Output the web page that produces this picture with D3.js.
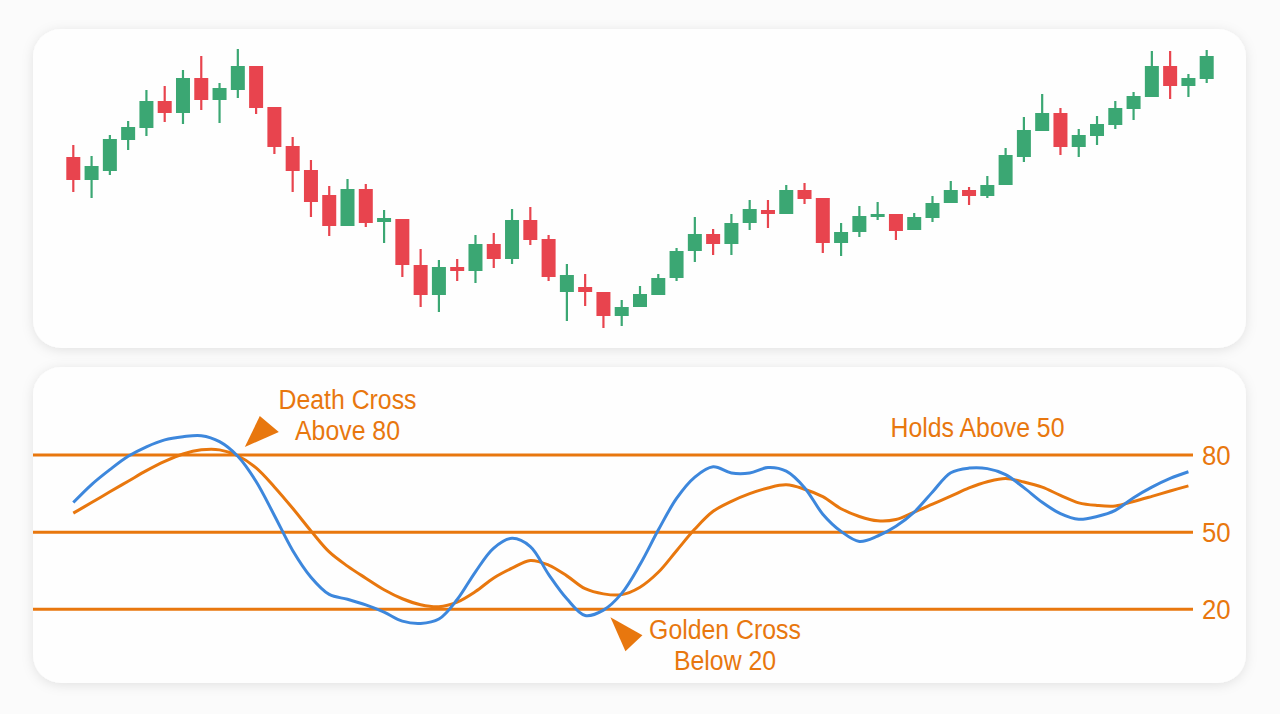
<!DOCTYPE html>
<html>
<head>
<meta charset="utf-8">
<script src="https://cdn.jsdelivr.net/npm/d3@7"></script>
<style>
  html, body { margin: 0; padding: 0; background: #fbfbfb; }
  svg { display: block; }
  .lbl { font-family: "Liberation Sans", Arial, "Helvetica", sans-serif; fill: #e8770e; }
</style>
</head>
<body>
<svg id="chart" width="1280" height="714"></svg>
<script>
// ---------- DATA ----------
const candleOpen  = [243,220,229,260,272,299,287,322,300,310,334,293,254,230,205,174,211,178,181,135,105,133,129,156,141,180,161,108,113,108,84,93,105,122,149,166,156,177,190,186,210,202,157,168,183,186,170,182,197,210,204,215,243,269,287,253,264,275,291,303,334,314,321];
const candleHigh  = [255,244,265,279,310,314,330,344,317,351,334,293,263,240,214,221,216,190,181,151,140,141,165,167,191,193,165,136,126,108,100,114,126,152,183,171,186,200,200,215,217,202,177,194,198,186,187,204,219,213,224,252,283,306,292,271,284,299,308,349,349,326,350];
const candleLow   = [208,202,225,250,264,278,276,290,277,302,286,246,208,183,164,174,173,157,123,93,88,119,117,132,136,155,119,79,94,72,74,93,105,119,138,145,145,170,172,186,196,147,144,163,180,160,170,178,197,195,202,215,238,269,245,243,255,271,280,303,301,303,317];
const candleClose = [220,234,261,273,299,287,322,300,312,334,292,253,229,198,174,211,177,182,135,105,133,129,156,141,180,160,123,125,108,84,93,106,122,149,166,156,177,191,186,210,201,157,168,184,186,169,183,197,210,204,215,245,270,287,253,265,276,292,304,334,314,322,344];

const stochK = [61.5,68.5,74.3,79.5,83.2,85.9,87.1,87.5,85.2,79.5,69.7,56.5,42.9,32.5,25.8,23.9,21.7,18.9,15.4,14.5,16.2,23.8,34.6,43.8,47.6,44.4,33.6,24.1,17.6,19.7,26.2,37.4,50.8,63.1,71.4,75.4,73.0,73.0,75.1,73.7,67.3,57.0,50.3,46.4,48.5,52.3,57.8,65.6,73.1,74.9,74.7,72.4,67.3,61.6,57.2,55.0,56.1,58.5,63.4,67.5,70.9,73.5];
const stochD = [57.4,61.5,65.7,69.8,73.9,77.5,80.4,82.0,82.0,79.7,75.0,67.6,59.3,50.5,42.3,36.8,32.1,27.6,24.1,21.8,21.0,22.8,26.9,32.2,36.0,39.0,37.2,33.0,28.0,26.0,25.7,28.6,34.4,42.8,51.2,58.1,62.0,65.0,67.2,68.4,66.7,63.8,59.1,56.1,54.4,54.9,57.8,60.9,64.0,67.2,69.6,70.9,69.5,67.5,64.3,61.4,60.4,60.2,61.9,63.9,66.0,68.0];

const levels = [80, 50, 20];
const levelLabels = ["80", "50", "20"];
const noteDeath  = ["Death Cross", "Above 80"];
const noteGolden = ["Golden Cross", "Below 20"];
const noteHolds  = ["Holds Above 50"];

// ---------- STYLE ----------
const GREEN = "#3ba773", RED = "#e8444e", ORANGE = "#e8770e", BLUE = "#3d87dc";
const NARROW = 0.92;

const svg = d3.select("#chart");
const defs = svg.append("defs");
const f = defs.append("filter").attr("id", "shadow").attr("x", "-5%").attr("y", "-10%").attr("width", "110%").attr("height", "125%");
f.append("feDropShadow").attr("dx", 0).attr("dy", 2).attr("stdDeviation", 6)
  .attr("flood-color", "#000").attr("flood-opacity", 0.10);

// panels
const panels = [{x:33, y:29, w:1213, h:319}, {x:33, y:367, w:1213, h:316}];
svg.selectAll("rect.panel").data(panels).enter().append("rect")
  .attr("class", "panel")
  .attr("x", d => d.x).attr("y", d => d.y).attr("width", d => d.w).attr("height", d => d.h)
  .attr("rx", 28).attr("fill", "#fefefe").attr("filter", "url(#shadow)");

// ---------- CANDLES ----------
const idx = d3.range(candleOpen.length);
const x = d3.scalePoint().domain(idx).range([73.3, 1206.7]);
const y = d3.scaleLinear().domain([60, 360]).range([340, 40]);
const bodyW = 14;

const candles = idx.map(i => ({i, o: candleOpen[i], h: candleHigh[i], l: candleLow[i], c: candleClose[i]}));
const cg = svg.append("g");
const cs = cg.selectAll("g.c").data(candles).enter().append("g").attr("class", "c");
cs.append("line")
  .attr("x1", d => x(d.i)).attr("x2", d => x(d.i))
  .attr("y1", d => y(d.h)).attr("y2", d => y(d.l))
  .attr("stroke", d => d.c >= d.o ? GREEN : RED).attr("stroke-width", 2.2);
cs.append("rect")
  .attr("x", d => x(d.i) - bodyW / 2).attr("width", bodyW)
  .attr("y", d => y(Math.max(d.o, d.c)))
  .attr("height", d => Math.max(2.5, Math.abs(y(d.o) - y(d.c))))
  .attr("fill", d => d.c >= d.o ? GREEN : RED);

// ---------- OSCILLATOR ----------
const xo = d3.scalePoint().domain(d3.range(stochK.length)).range([73.3, 73.3 + (1206.7 - 73.3) / 62 * 61]);
const yo = d3.scaleLinear().domain([20, 80]).range([609.3, 455]);

const og = svg.append("g");
og.selectAll("line.lvl").data(levels).enter().append("line")
  .attr("x1", 33).attr("x2", 1193)
  .attr("y1", d => yo(d)).attr("y2", d => yo(d))
  .attr("stroke", ORANGE).attr("stroke-width", 3);
og.selectAll("g.lvl").data(levels).enter().append("g")
  .attr("transform", d => `translate(1202,${yo(d)}) scale(${NARROW},1)`)
  .append("text")
  .attr("class", "lbl")
  .attr("dy", "0.36em")
  .attr("font-size", 28)
  .text((d, i) => levelLabels[i]);

const line = d3.line().x((d, i) => xo(i)).y(d => yo(d)).curve(d3.curveCatmullRom.alpha(0.5));
og.append("path").datum(stochD).attr("d", line).attr("fill", "none")
  .attr("stroke", ORANGE).attr("stroke-width", 3).attr("stroke-linejoin", "round");
og.append("path").datum(stochK).attr("d", line).attr("fill", "none")
  .attr("stroke", BLUE).attr("stroke-width", 3).attr("stroke-linejoin", "round");

// ---------- ANNOTATIONS ----------
function note(lines, cx, baseY, lh) {
  const g = og.append("g").attr("transform", `translate(${cx},0) scale(${NARROW},1)`);
  const t = g.append("text").attr("class", "lbl").attr("text-anchor", "middle")
    .attr("font-size", 27);
  lines.forEach((s, k) => t.append("tspan").attr("x", 0).attr("y", baseY + k * lh).text(s));
}
note(noteDeath, 347.5, 409, 31);
note(noteGolden, 725, 639, 31);
note(noteHolds, 977.5, 437, 31);

// triangles anchored at the crossings
const dx = xo(9), dy = yo(80);
og.append("path")
  .attr("d", `M${dx + 7},${dy - 8} L${dx + 22},${dy - 39} L${dx + 41},${dy - 23} Z`)
  .attr("fill", ORANGE);
const gx = xo(29), gy = yo(20);
og.append("path")
  .attr("d", `M${gx + 7},${gy + 8} L${gx + 39},${gy + 26} L${gx + 22},${gy + 42} Z`)
  .attr("fill", ORANGE);
</script>
</body>
</html>
